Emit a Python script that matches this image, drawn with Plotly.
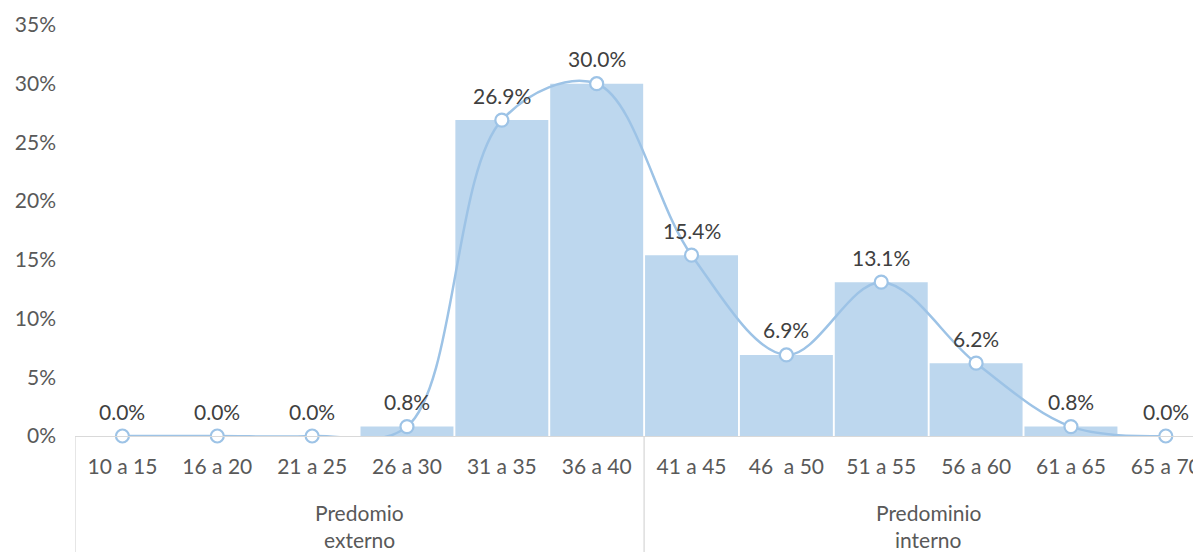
import plotly.graph_objects as go

categories = ["10 a 15", "16 a 20", "21 a 25", "26 a 30", "31 a 35", "36 a 40",
              "41 a 45", "46  a 50", "51 a 55", "56 a 60", "61 a 65", "65 a 70"]
values = [0.0, 0.0, 0.0, 0.008, 0.269, 0.300, 0.154, 0.069, 0.131, 0.062, 0.008, 0.0]
group_names = [["Predomio", "externo"], ["Predominio", "interno"]]
group_spans = [(0, 5), (6, 11)]
y_ticks = [0, 0.05, 0.10, 0.15, 0.20, 0.25, 0.30, 0.35]

FONT = "Lato, Carlito, 'Open Sans', sans-serif"
FS = 21
xpos = list(range(len(categories)))
labels = [f"{v*100:.1f}%" for v in values]

# page body has an 8px margin, so the figure is sized to the visible area
W, H = 1193, 544
ML, MT, MB = 67, 17, 116
plot_h = H - MT - MB

fig = go.Figure()
fig.add_trace(go.Bar(x=xpos, y=values, marker=dict(color="#BDD7EE", line=dict(width=0)),
                     hoverinfo="skip"))
fig.add_trace(go.Scatter(
    x=xpos, y=values, mode="lines+markers",
    line=dict(color="#9DC3E6", width=2.5, shape="spline", smoothing=1.0),
    marker=dict(size=13, color="white", line=dict(color="#9DC3E6", width=2.2)),
    cliponaxis=False,
))
for x, v, t in zip(xpos, values, labels):
    fig.add_annotation(x=x, y=v, text=t, showarrow=False, yshift=25,
                       font=dict(family=FONT, size=FS, color="#404040"))

for (a, b), lines in zip(group_spans, group_names):
    fig.add_shape(type="line", xref="x", yref="paper", x0=a - 0.5, x1=a - 0.5,
                  y0=0, y1=-MB / plot_h, line=dict(color="#D9D9D9", width=1.3))
    cx = (a + b) / 2
    for i, ln in enumerate(lines):
        fig.add_annotation(x=cx, xref="x", yref="paper", y=-(77 + 26 * i) / plot_h,
                           text=ln, showarrow=False, yanchor="middle",
                           font=dict(family=FONT, size=FS, color="#595959"))

fig.update_layout(
    width=W, height=H,
    margin=dict(l=ML, r=0, t=MT, b=MB),
    paper_bgcolor="white", plot_bgcolor="white",
    showlegend=False, bargap=0.02,
    font=dict(family=FONT, size=FS, color="#595959"),
    xaxis=dict(range=[-0.5, 11.35], tickvals=xpos, ticktext=categories,
               showgrid=False, zeroline=False, showline=True, linecolor="#D9D9D9",
               linewidth=1.3, ticks="", ticklabelstandoff=12,
               ticklabeloverflow="allow",
               tickfont=dict(family=FONT, size=FS, color="#595959")),
    yaxis=dict(range=[0, 0.35], tickvals=y_ticks, tickformat=".0%",
               showgrid=False, zeroline=False, showline=False, ticks="",
               ticklabelstandoff=18,
               tickfont=dict(family=FONT, size=FS, color="#595959")),
)
fig.write_html("out.html")
